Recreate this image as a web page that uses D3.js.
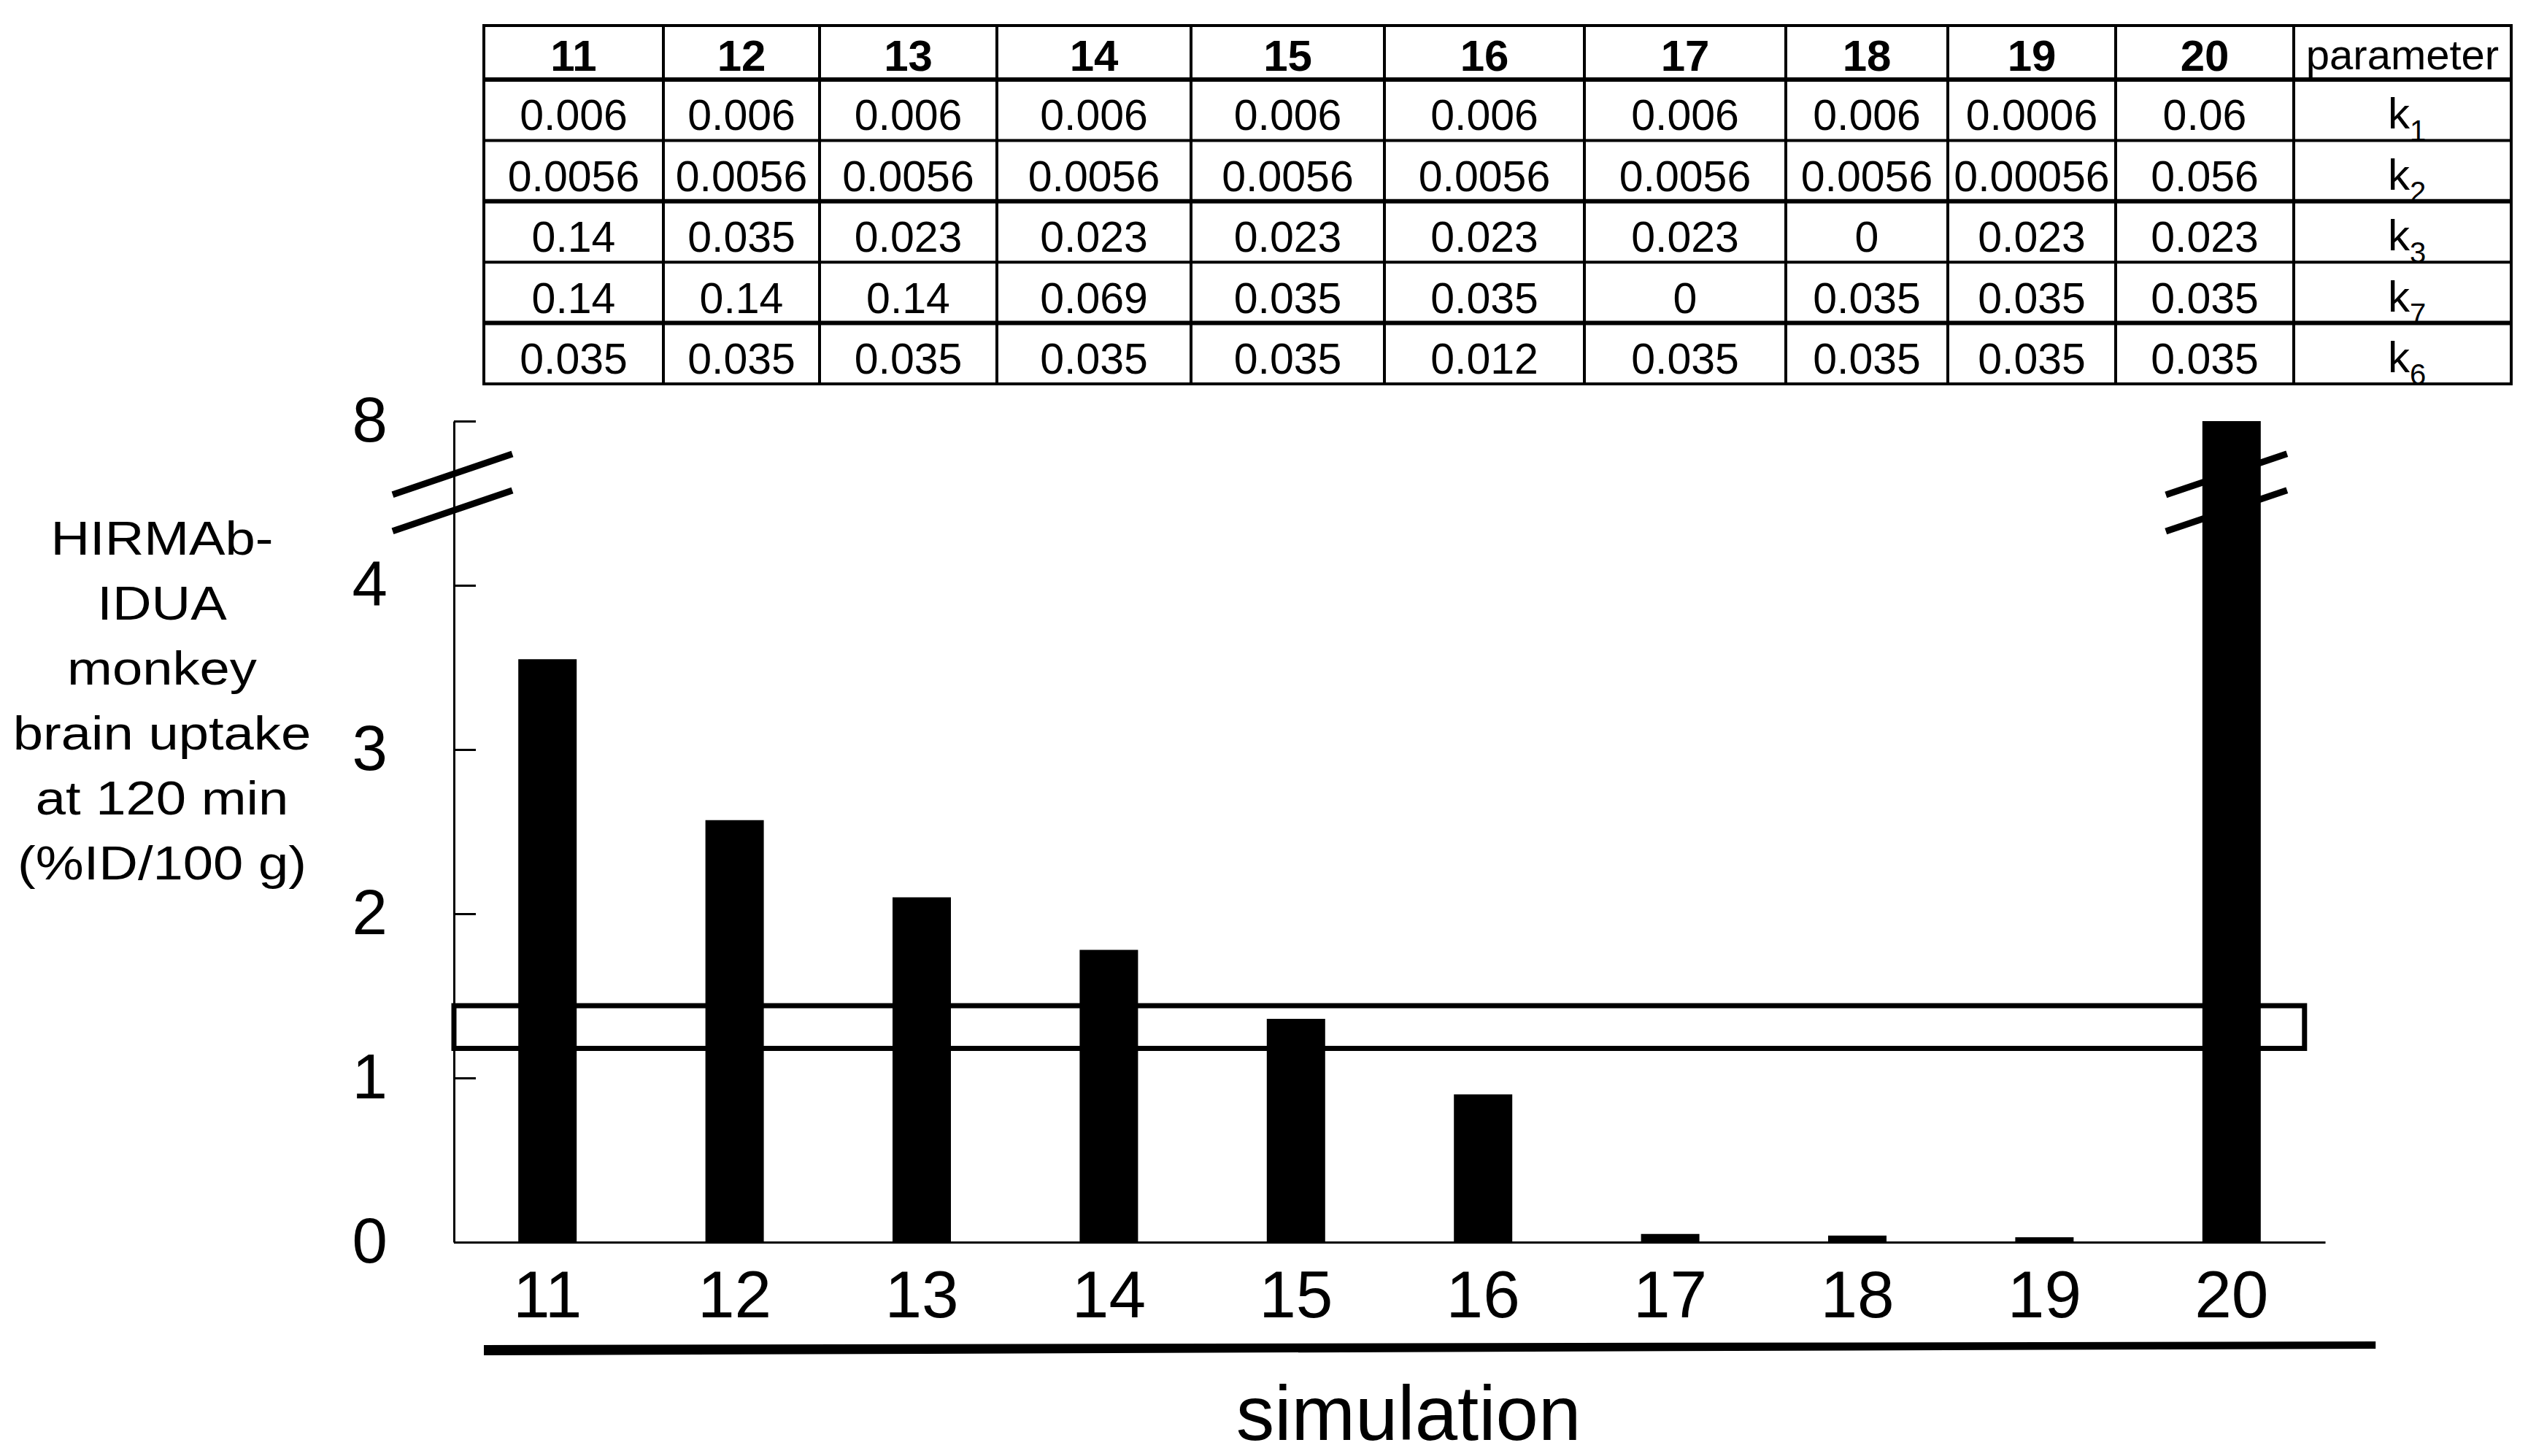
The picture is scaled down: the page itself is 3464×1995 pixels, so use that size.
<!DOCTYPE html>
<html>
<head>
<meta charset="utf-8">
<script src="https://cdn.jsdelivr.net/npm/d3@7"></script>
<style>
  html, body { margin: 0; padding: 0; background: #fff; }
  svg { display: block; font-family: "Liberation Sans", Arial, sans-serif; }
</style>
</head>
<body>
<script>
// ---------- data ----------
const simulations = ["11","12","13","14","15","16","17","18","19","20"];
const uptake = [3.55, 2.57, 2.10, 1.78, 1.36, 0.90, 0.05, 0.04, 0.03, 8];
const yTickValues = [0, 1, 2, 3, 4, 8];
const observedRange = [1.18, 1.44];
const paramNames = [["k","1"], ["k","2"], ["k","3"], ["k","7"], ["k","6"]];
const k1 = ["0.006","0.006","0.006","0.006","0.006","0.006","0.006","0.006","0.0006","0.06"];
const k2 = ["0.0056","0.0056","0.0056","0.0056","0.0056","0.0056","0.0056","0.0056","0.00056","0.056"];
const k3 = ["0.14","0.035","0.023","0.023","0.023","0.023","0.023","0","0.023","0.023"];
const k7 = ["0.14","0.14","0.14","0.069","0.035","0.035","0","0.035","0.035","0.035"];
const k6 = ["0.035","0.035","0.035","0.035","0.035","0.012","0.035","0.035","0.035","0.035"];
const yTitleLines = ["HIRMAb-", "IDUA", "monkey", "brain uptake", "at 120 min", "(%ID/100 g)"];
const xTitle = "simulation";
const headerLabel = "parameter";

// ---------- layout ----------
const W = 3464, H = 1995;
const plot = { left: 622, right: 3186, bottom: 1702 };
const tableLeft = 663, tableTop = 35, headerH = 74, rowH = 83.4;
const colWidths = [246, 214, 243, 266, 265, 274, 276, 222, 230, 244, 298];

const svg = d3.select("body").append("svg").attr("width", W).attr("height", H);

const x = d3.scaleBand().domain(simulations).range([plot.left, plot.right])
  .paddingInner(0.688).paddingOuter(0.344);
const xLin = d3.scaleLinear().domain([10.5, 20.5]).range([plot.left, plot.right]);
const y = d3.scaleLinear().domain([0, 4, 8]).range([plot.bottom, 802, 577]);

// observed range box
svg.append("rect")
  .attr("x", xLin(10.5)).attr("y", y(observedRange[1]))
  .attr("width", xLin(20.39) - xLin(10.5))
  .attr("height", y(observedRange[0]) - y(observedRange[1]))
  .attr("fill", "none").attr("stroke", "#000").attr("stroke-width", 7);

// bars
svg.selectAll("rect.bar").data(simulations).join("rect")
  .attr("class", "bar")
  .attr("x", d => x(d)).attr("width", x.bandwidth())
  .attr("y", (d, i) => y(uptake[i]))
  .attr("height", (d, i) => plot.bottom - y(uptake[i]))
  .attr("fill", "#000");

// y axis
const yAxis = svg.append("g").attr("transform", `translate(${plot.left},0)`)
  .call(d3.axisLeft(y).tickValues(yTickValues).tickSizeInner(-30).tickSizeOuter(0)
    .tickPadding(91).tickFormat(d3.format("d")));
yAxis.select(".domain").attr("stroke-width", 3);
yAxis.selectAll(".tick line").attr("stroke-width", 3);
yAxis.selectAll(".tick text").attr("font-size", 87).attr("fill", "#000")
  .attr("font-family", "Liberation Sans, Arial, sans-serif");

// x axis
const xAxis = svg.append("g").attr("transform", `translate(0,${plot.bottom})`)
  .call(d3.axisBottom(x).tickSize(0).tickPadding(38));
xAxis.select(".domain").attr("stroke-width", 3);
xAxis.selectAll(".tick text").attr("font-size", 91).attr("fill", "#000")
  .attr("font-family", "Liberation Sans, Arial, sans-serif");

// axis breaks
const breakY = y(6.26);
function breakLines(cx, half) {
  [-25, 25].forEach(off => {
    svg.append("line")
      .attr("x1", cx - half).attr("y1", breakY + off + half * 0.34)
      .attr("x2", cx + half).attr("y2", breakY + off - half * 0.34)
      .attr("stroke", "#000").attr("stroke-width", 9);
  });
}
breakLines(plot.left - 2, 82);
breakLines(x("20") + x.bandwidth() / 2 - 7, 83);

// y title
const yTitle = svg.append("g").attr("transform", "translate(222,760) scale(1.16,1)");
yTitleLines.forEach((t, i) => {
  yTitle.append("text").attr("x", 0).attr("y", i * 89)
    .attr("text-anchor", "middle").attr("font-size", 64).text(t);
});

// x title underline and title
svg.append("polygon")
  .attr("points", [
    [xLin(10.66), 1843], [xLin(20.77), 1838], [xLin(20.77), 1848], [xLin(10.66), 1857]
  ].map(p => p.join(",")).join(" "))
  .attr("fill", "#000");
svg.append("text").attr("x", 1930).attr("y", 1973).attr("text-anchor", "middle")
  .attr("font-size", 105).text(xTitle);

// ---------- table ----------
const colEdges = [tableLeft];
colWidths.forEach(w => colEdges.push(colEdges[colEdges.length - 1] + w));
const rowEdges = [tableTop, tableTop + headerH];
for (let i = 0; i < 5; i++) rowEdges.push(rowEdges[rowEdges.length - 1] + rowH);
const tbl = svg.append("g");
const rows = [k1, k2, k3, k7, k6];

// header
simulations.forEach((s, i) => {
  tbl.append("text").attr("x", (colEdges[i] + colEdges[i + 1]) / 2)
    .attr("y", rowEdges[1] - 12).attr("text-anchor", "middle")
    .attr("font-size", 60).attr("font-weight", "bold").text(s);
});
tbl.append("text").attr("x", (colEdges[10] + colEdges[11]) / 2)
  .attr("y", rowEdges[1] - 14).attr("text-anchor", "middle")
  .attr("font-size", 58).text(headerLabel);

rows.forEach((vals, r) => {
  vals.forEach((v, i) => {
    tbl.append("text").attr("x", (colEdges[i] + colEdges[i + 1]) / 2)
      .attr("y", rowEdges[r + 2] - 14).attr("text-anchor", "middle")
      .attr("font-size", 59).text(v);
  });
  const t = tbl.append("text").attr("x", (colEdges[10] + colEdges[11]) / 2 + 6)
    .attr("y", rowEdges[r + 2] - 16).attr("text-anchor", "middle").attr("font-size", 60);
  t.append("tspan").text(paramNames[r][0]);
  t.append("tspan").attr("dy", 17).attr("font-size", 40).text(paramNames[r][1]);
});

// grid lines
rowEdges.forEach((ry, i) => {
  tbl.append("line").attr("x1", colEdges[0] - 2).attr("x2", colEdges[11] + 2)
    .attr("y1", ry).attr("y2", ry).attr("stroke", "#000")
    .attr("stroke-width", (i === 1 || i === 3 || i === 5) ? 6 : 4);
});
colEdges.forEach(cx => {
  tbl.append("line").attr("x1", cx).attr("x2", cx)
    .attr("y1", rowEdges[0]).attr("y2", rowEdges[rowEdges.length - 1])
    .attr("stroke", "#000").attr("stroke-width", 4);
});
</script>
</body>
</html>
